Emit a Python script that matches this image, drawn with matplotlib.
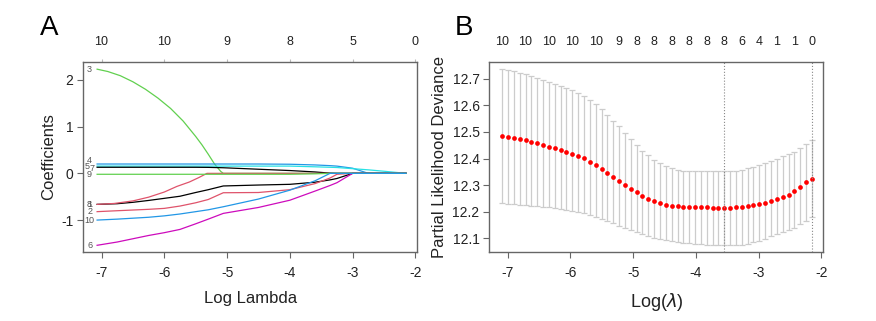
import numpy as np
import matplotlib.pyplot as plt

plt.rcParams['font.family'] = ['Liberation Sans', 'DejaVu Sans']
plt.rcParams['axes.unicode_minus'] = False

# ---- panel A: lasso coefficient paths
path_x = [-7.07, -6.75, -6.5, -6.25, -6.0, -5.75, -5.5, -5.3, -5.06, -4.5,
          -4.0, -3.6, -3.36, -3.25, -3.0, -2.75, -2.5, -2.15]
coef_1 = [-0.664, -0.65, -0.62, -0.58, -0.535, -0.49, -0.41, -0.35, -0.27, -0.25,
          -0.235, -0.19, -0.14, -0.11, 0, 0, 0, 0]
coef_2 = [-0.82, -0.80, -0.785, -0.77, -0.75, -0.70, -0.63, -0.56, -0.415, -0.41,
          -0.35, -0.22, -0.10, -0.02, 0, 0, 0, 0]
coef_4 = [0.20, 0.20, 0.20, 0.20, 0.20, 0.20, 0.20, 0.20, 0.20, 0.20,
          0.195, 0.18, 0.165, 0.155, 0.11, 0, 0, 0]
coef_5 = [0.155, 0.155, 0.155, 0.155, 0.155, 0.155, 0.155, 0.155, 0.155, 0.155,
          0.155, 0.14, 0.13, 0.125, 0.10, 0.075, 0.045, 0]
coef_6 = [-1.54, -1.47, -1.40, -1.33, -1.27, -1.20, -1.08, -0.98, -0.857, -0.73,
          -0.575, -0.38, -0.26, -0.20, 0, 0, 0, 0]
coef_7 = [0.13, 0.13, 0.13, 0.13, 0.13, 0.13, 0.13, 0.128, 0.12, 0.088,
          0.06, 0.03, 0.005, 0, 0, 0, 0, 0]
coef_9 = [-0.02, -0.02, -0.02, -0.02, -0.02, -0.02, -0.02, -0.02, -0.02, -0.02,
          -0.02, -0.01, 0, 0, 0, 0, 0, 0]
coef_10 = [-1.0, -0.98, -0.96, -0.94, -0.91, -0.87, -0.82, -0.78, -0.715, -0.55,
           -0.36, -0.16, 0, 0, 0, 0, 0, 0]
# the two curved paths that leave early are read on a finer grid
path3_x = [-7.07, -6.9, -6.7, -6.5, -6.3, -6.1, -5.9, -5.7, -5.5, -5.4, -5.3, -5.2, -5.1, -5.06, -2.15]
coef_3 = [2.23, 2.18, 2.09, 1.96, 1.80, 1.61, 1.39, 1.12, 0.79, 0.61, 0.41, 0.20, 0.04, 0, 0]
path8_x = [-7.07, -6.8, -6.5, -6.25, -6.0, -5.8, -5.6, -5.45, -5.32, -2.15]
coef_8 = [-0.664, -0.645, -0.59, -0.51, -0.40, -0.28, -0.185, -0.09, 0, 0]
top_a_ticks = [-7, -6, -5, -4, -3, -2]
top_a_labels = ['10', '10', '9', '8', '5', '0']

# ---- panel B: cross-validation curve
log_lambda = [-7.085, -6.992, -6.899, -6.806, -6.713, -6.619, -6.526, -6.433, -6.340, -6.247,
              -6.154, -6.061, -5.968, -5.875, -5.781, -5.688, -5.595, -5.502, -5.409, -5.316,
              -5.223, -5.130, -5.037, -4.944, -4.850, -4.757, -4.664, -4.571, -4.478, -4.385,
              -4.292, -4.199, -4.106, -4.012, -3.919, -3.826, -3.733, -3.640, -3.547, -3.454,
              -3.361, -3.268, -3.175, -3.082, -2.988, -2.895, -2.802, -2.709, -2.616, -2.523,
              -2.430, -2.337, -2.244, -2.150]
cvm = [12.484, 12.482, 12.478, 12.473, 12.468, 12.463, 12.458, 12.451, 12.445, 12.439,
       12.431, 12.425, 12.418, 12.410, 12.401, 12.389, 12.376, 12.361, 12.346, 12.331,
       12.315, 12.301, 12.287, 12.273, 12.259, 12.249, 12.241, 12.233, 12.227, 12.223,
       12.221, 12.219, 12.219, 12.218, 12.217, 12.217, 12.216, 12.216, 12.215, 12.215,
       12.217, 12.218, 12.221, 12.224, 12.229, 12.234, 12.241, 12.247, 12.257, 12.264,
       12.278, 12.293, 12.312, 12.323]
cvup = [12.738, 12.733, 12.728, 12.723, 12.716, 12.710, 12.704, 12.696, 12.689, 12.681,
        12.674, 12.666, 12.659, 12.646, 12.635, 12.621, 12.605, 12.587, 12.564, 12.543,
        12.521, 12.495, 12.473, 12.450, 12.430, 12.413, 12.396, 12.382, 12.372, 12.364,
        12.356, 12.354, 12.352, 12.352, 12.352, 12.352, 12.352, 12.352, 12.352, 12.352,
        12.355, 12.359, 12.364, 12.369, 12.375, 12.382, 12.390, 12.399, 12.408, 12.418,
        12.426, 12.439, 12.454, 12.470]
cvlo = [12.232, 12.229, 12.228, 12.227, 12.226, 12.223, 12.222, 12.219, 12.217, 12.214,
        12.210, 12.207, 12.203, 12.199, 12.194, 12.188, 12.180, 12.173, 12.165, 12.157,
        12.148, 12.139, 12.131, 12.124, 12.116, 12.109, 12.103, 12.098, 12.094, 12.090,
        12.086, 12.084, 12.082, 12.080, 12.079, 12.077, 12.076, 12.075, 12.074, 12.074,
        12.074, 12.076, 12.080, 12.085, 12.092, 12.099, 12.108, 12.115, 12.123, 12.131,
        12.141, 12.154, 12.167, 12.179]
nz_idx = [0, 4, 8, 12, 16, 20, 23, 26, 29, 32, 35, 38, 41, 44, 47, 50, 53]
nz_labels = ['10', '10', '10', '10', '10', '9', '8', '8', '8', '8', '8', '8', '6', '4', '1', '1', '0']
lambda_min = -3.547
lambda_1se = -2.150

W, H = 876, 321
fig = plt.figure(figsize=(W / 100, H / 100), dpi=100)
axA = fig.add_axes([83.3 / W, 1 - 252.3 / H, 334 / W, 190.6 / H])
axB = fig.add_axes([489.3 / W, 1 - 252.3 / H, 334 / W, 190.6 / H])

spine_col = '#666666'
txt_col = '#222222'

# R default palette, cycled over 6 colours like matplot does
r_cols = ['#000000', '#DF536B', '#61D04F', '#2297E6', '#28E2E5', '#CD0BBC']
paths = [(path_x, coef_1), (path_x, coef_2), (path3_x, coef_3), (path_x, coef_4),
         (path_x, coef_5), (path_x, coef_6), (path_x, coef_7), (path8_x, coef_8),
         (path_x, coef_9), (path_x, coef_10)]
for k, (px, c) in enumerate(paths):
    axA.plot(px, c, color=r_cols[k % 6], lw=0.9)

# variable labels at the left end
lab_x = -7.19
lab_shift = {'4': (0, 0.08), '5': (-0.035, 0.0), '7': (0.035, -0.035), '9': (0, -0.01)}
for k, (px, c) in enumerate(paths):
    name = str(k + 1)
    dx, dy = lab_shift.get(name, (0, 0))
    axA.text(lab_x + dx, c[0] + dy, name, fontsize=6.5, color='#555555', ha='center', va='center')

axA.set_xlim(-7.29, -1.97)
axA.set_ylim(-1.69, 2.39)
axA.set_xticks([-7, -6, -5, -4, -3, -2])
axA.set_yticks([-1, 0, 1, 2])
axA.set_xlabel('Log Lambda', fontsize=12, labelpad=8, color=txt_col)
axA.set_ylabel('Coefficients', fontsize=12, labelpad=4, color=txt_col)
topA = axA.secondary_xaxis('top')
topA.set_xticks(top_a_ticks, top_a_labels)
topA.tick_params(length=2, color='#bbbbbb', labelsize=9, pad=8, labelcolor=txt_col)
topA.spines['top'].set_visible(False)
axA.text(-0.103, 1.177, 'A', transform=axA.transAxes, fontsize=20, ha='center', va='center')

# panel B
yerr = [np.array(cvm) - np.array(cvlo), np.array(cvup) - np.array(cvm)]
axB.errorbar(log_lambda, cvm, yerr=yerr, fmt='none', ecolor='#cccccc', elinewidth=0.9,
             capsize=1.9, capthick=0.9)
axB.plot(log_lambda, cvm, 'o', color='#ff0000', ms=3.4, mec='none')
for v in [lambda_min, lambda_1se]:
    axB.axvline(v, color='#888888', ls=':', lw=0.8)
axB.set_xlim(-7.29, -1.97)
axB.set_ylim(12.048, 12.764)
axB.set_xticks([-7, -6, -5, -4, -3, -2])
axB.set_yticks([12.1, 12.2, 12.3, 12.4, 12.5, 12.6, 12.7])
axB.set_xlabel('Log($\\lambda$)', fontsize=13, labelpad=8, color=txt_col)
axB.set_ylabel('Partial Likelihood Deviance', fontsize=12, labelpad=4, color=txt_col)
topB = axB.secondary_xaxis('top')
topB.set_xticks([log_lambda[i] for i in nz_idx], nz_labels)
topB.tick_params(length=0, labelsize=9, pad=10, labelcolor=txt_col)
topB.spines['top'].set_visible(False)
axB.text(-0.076, 1.177, 'B', transform=axB.transAxes, fontsize=20, ha='center', va='center')

for ax in [axA, axB]:
    for s in ax.spines.values():
        s.set_color(spine_col)
        s.set_linewidth(1.0)
    ax.tick_params(axis='both', length=4, color=spine_col, labelsize=10, labelcolor=txt_col, pad=3)
    ax.tick_params(axis='x', pad=6)

fig.savefig('out.png', dpi=100)
